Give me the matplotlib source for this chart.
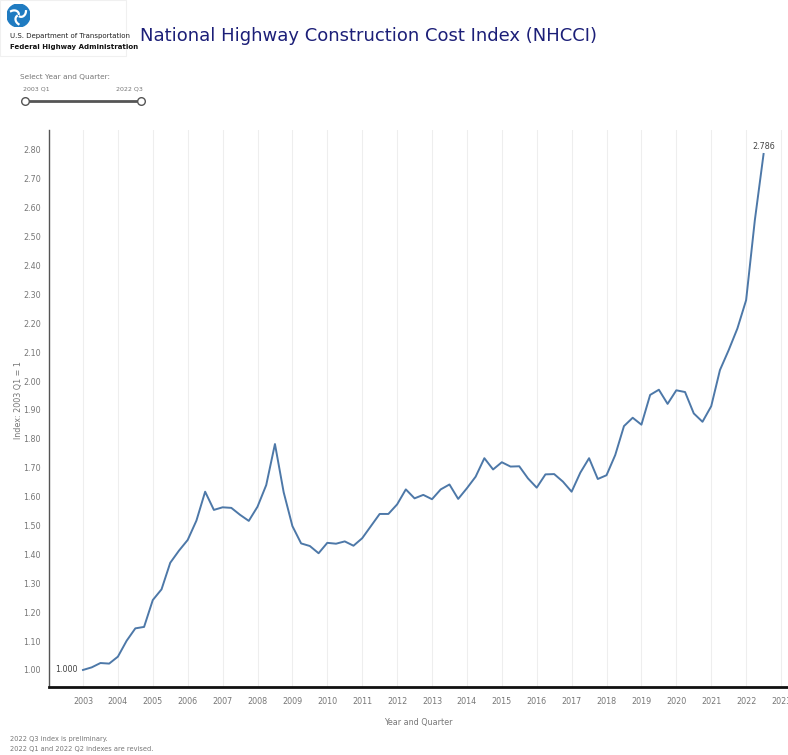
import numpy as np
import matplotlib.pyplot as plt
from matplotlib.patches import Circle, Rectangle

# DATOS
years = list(range(2003, 2024))
year_labels = [str(y) for y in years]
quarters = [f"{y} Q{q}" for y in range(2003, 2023) for q in range(1, 5)][:79]
nhcci = [
    1.000, 1.009, 1.024, 1.022,   # 2003
    1.046, 1.101, 1.144, 1.149,   # 2004
    1.242, 1.279, 1.371, 1.413,   # 2005
    1.450, 1.517, 1.617, 1.554,   # 2006
    1.563, 1.561, 1.537, 1.516,   # 2007
    1.565, 1.640, 1.782, 1.615,   # 2008
    1.498, 1.438, 1.429, 1.404,   # 2009
    1.440, 1.437, 1.445, 1.430,   # 2010
    1.456, 1.498, 1.540, 1.540,   # 2011
    1.573, 1.625, 1.594, 1.606,   # 2012
    1.591, 1.625, 1.642, 1.592,   # 2013
    1.629, 1.669, 1.733, 1.694,   # 2014
    1.719, 1.704, 1.705, 1.663,   # 2015
    1.631, 1.677, 1.678, 1.652,   # 2016
    1.617, 1.683, 1.733, 1.661,   # 2017
    1.674, 1.744, 1.844, 1.873,   # 2018
    1.849, 1.952, 1.970, 1.921,   # 2019
    1.968, 1.962, 1.888, 1.859,   # 2020
    1.913, 2.038, 2.107, 2.182,   # 2021
    2.280, 2.557, 2.786,          # 2022
]
y_ticks = [1.00, 1.10, 1.20, 1.30, 1.40, 1.50, 1.60, 1.70, 1.80, 1.90,
           2.00, 2.10, 2.20, 2.30, 2.40, 2.50, 2.60, 2.70, 2.80]

# posición de cada trimestre en años decimales
x = np.array([int(q[:4]) + (int(q[-1]) - 1) / 4 for q in quarters])
v = np.array(nhcci)

GRIS = "#777777"
AZUL = "#4d78a8"

fig = plt.figure(figsize=(7.88, 7.55), dpi=100)

# ENCABEZADO
fig.patches.append(Rectangle((0.0, 1 - 56 / 755), 126 / 788, 56 / 755,
                             transform=fig.transFigure, facecolor="none",
                             edgecolor="#f0f0f0", linewidth=0.8))
logo = fig.add_axes([7 / 788, 1 - 27 / 755, 23 / 788, 23 / 755])
logo.set_xlim(-1, 1)
logo.set_ylim(-1, 1)
logo.set_aspect("equal")
logo.axis("off")
logo.add_patch(Circle((0, 0), 1, color="#1f7bc1"))
for ang in (90, 210, 330):
    t = np.radians(np.linspace(ang - 10, ang + 60, 20))
    r = np.linspace(0.15, 0.75, 20)
    logo.plot(r * np.cos(t), r * np.sin(t), color="white", lw=1.6)

fig.text(10 / 788, 1 - 36 / 755, "U.S. Department of Transportation",
         fontsize=5, color="#222222", va="center")
fig.text(10 / 788, 1 - 47 / 755, "Federal Highway Administration",
         fontsize=5, color="#111111", weight="bold", va="center")
fig.text(140 / 788, 1 - 36 / 755,
         "National Highway Construction Cost Index (NHCCI)",
         fontsize=13, color="#1c1f78", va="center")

# control deslizante (solo decorativo)
fig.text(20 / 788, 1 - 77 / 755, "Select Year and Quarter:",
         fontsize=5.3, color=GRIS, va="center")
fig.text(23 / 788, 1 - 89 / 755, quarters[0], fontsize=4.5, color=GRIS, va="center")
fig.text(116 / 788, 1 - 89 / 755, quarters[-1], fontsize=4.5, color=GRIS, va="center")
fig.lines.append(plt.Line2D([25 / 788, 141 / 788], [1 - 101 / 755] * 2,
                            transform=fig.transFigure, color="#555555", lw=2))
for xs in (25 / 788, 141 / 788):
    fig.lines.append(plt.Line2D([xs], [1 - 101 / 755], transform=fig.transFigure,
                                marker="o", ms=5.5, mfc="white", mec="#555555", mew=1))

# GRÁFICA
ax = fig.add_axes([49 / 788, 68 / 755, 1 - 49 / 788, 557 / 755])
ax.plot(x, v, color=AZUL, linewidth=1.4)

ax.text(x[0] - 0.15, v[0], f"{v[0]:.3f}", fontsize=5.8, color="#444444",
        ha="right", va="center")
ax.text(x[-1], v[-1] + 0.01, f"{v[-1]:.3f}", fontsize=5.8, color="#444444",
        ha="center", va="bottom")

ax.set_xlim(2002.026, 2023.2)
ax.set_ylim(0.941, 2.869)
ax.set_xticks(years)
ax.set_xticklabels(year_labels)
ax.set_yticks(y_ticks)
ax.set_yticklabels([f"{t:.2f}" for t in y_ticks])
ax.tick_params(length=0, labelsize=5.8, labelcolor=GRIS, pad=6)
ax.tick_params(axis="x", pad=7)
ax.xaxis.grid(True, color="#eeeeee", linewidth=0.8)
ax.set_axisbelow(True)

for lado in ("top", "right"):
    ax.spines[lado].set_visible(False)
ax.spines["left"].set_color("#555555")
ax.spines["left"].set_linewidth(1)
ax.spines["bottom"].set_color("#111111")
ax.spines["bottom"].set_linewidth(2)

ax.set_xlabel("Year and Quarter", fontsize=5.8, color=GRIS, labelpad=9)
fig.text(19 / 788, 1 - 400 / 755, "Index: 2003 Q1 = 1", rotation=90,
         fontsize=5.8, color=GRIS, ha="center", va="center")

# NOTAS
fig.text(10 / 788, 1 - 739 / 755, "2022 Q3 index is preliminary.",
         fontsize=4.8, color=GRIS, va="center")
fig.text(10 / 788, 1 - 749 / 755, "2022 Q1 and 2022 Q2 indexes are revised.",
         fontsize=4.8, color=GRIS, va="center")

fig.savefig("out.png", dpi=100)
